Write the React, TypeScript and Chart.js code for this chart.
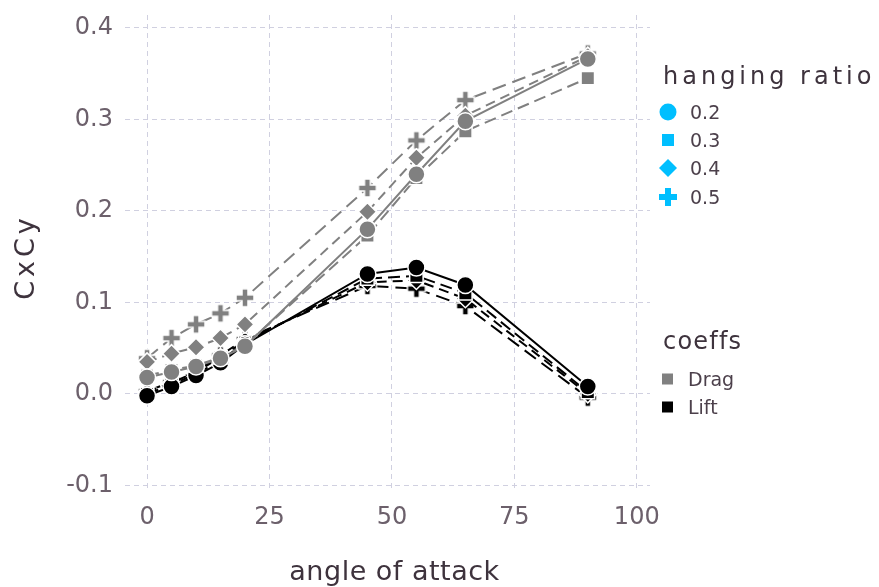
import React, { useEffect, useRef } from "react";
import { Chart, registerables } from "chart.js";

Chart.register(...registerables);

// Angle of attack (degrees) at which the coefficients were measured
const angles = [0, 5, 10, 15, 20, 45, 55, 65, 90];

// Hanging ratios shown in the shape key
const ratios = ["0.2", "0.3", "0.4", "0.5"];
const coeffNames = ["Drag", "Lift"];

// Drag coefficient per hanging ratio
const drag02 = [0.018, 0.024, 0.030, 0.039, 0.052, 0.180, 0.240, 0.298, 0.366];
const drag03 = [0.020, 0.026, 0.031, 0.040, 0.053, 0.173, 0.236, 0.287, 0.345];
const drag04 = [0.035, 0.044, 0.051, 0.061, 0.076, 0.199, 0.258, 0.304, 0.369];
const drag05 = [0.039, 0.061, 0.076, 0.088, 0.105, 0.225, 0.277, 0.321, 0.372];

// Lift coefficient per hanging ratio
const lift02 = [-0.002, 0.008, 0.020, 0.034, 0.054, 0.131, 0.138, 0.119, 0.008];
const lift03 = [0.000, 0.010, 0.022, 0.036, 0.056, 0.126, 0.129, 0.110, 0.002];
const lift04 = [0.002, 0.012, 0.024, 0.040, 0.058, 0.122, 0.124, 0.104, 0.000];
const lift05 = [0.003, 0.013, 0.025, 0.042, 0.060, 0.118, 0.115, 0.096, -0.004];

const xTicks = [0, 25, 50, 75, 100];
const yTicks = [-0.1, 0, 0.1, 0.2, 0.3, 0.4];

const DRAG_COLOR = "#808080";
const LIFT_COLOR = "#000000";
const KEY_COLOR = "#00BFFF";
const TICK_COLOR = "#6C606B";
const TITLE_COLOR = "#3E333D";
const LABEL_COLOR = "#4C404B";
const GRID_COLOR = "#D0D0E0";
const FONT = "'DejaVu Sans', sans-serif";

const dashes: number[][] = [[], [12, 6], [10, 6], [14, 7]];

function plusPath(ctx: CanvasRenderingContext2D, cx: number, cy: number, half: number, arm: number) {
  const a = arm / 2;
  ctx.beginPath();
  ctx.moveTo(cx - a, cy - half);
  ctx.lineTo(cx + a, cy - half);
  ctx.lineTo(cx + a, cy - a);
  ctx.lineTo(cx + half, cy - a);
  ctx.lineTo(cx + half, cy + a);
  ctx.lineTo(cx + a, cy + a);
  ctx.lineTo(cx + a, cy + half);
  ctx.lineTo(cx - a, cy + half);
  ctx.lineTo(cx - a, cy + a);
  ctx.lineTo(cx - half, cy + a);
  ctx.lineTo(cx - half, cy - a);
  ctx.lineTo(cx - a, cy - a);
  ctx.closePath();
}

function makePlus(color: string): HTMLCanvasElement {
  const c = document.createElement("canvas");
  c.width = 22;
  c.height = 22;
  const g = c.getContext("2d")!;
  plusPath(g, 11, 11, 9, 6);
  g.fillStyle = color;
  g.fill();
  g.strokeStyle = "#ffffff";
  g.lineWidth = 1.5;
  g.stroke();
  return c;
}

type Shape = "circle" | "rect" | "rectRot" | "plus";
const shapes: Shape[] = ["circle", "rect", "rectRot", "plus"];
const radii = [8.5, 9.5, 9, 9];

function buildDataset(values: number[], idx: number, color: string, plusImg: HTMLCanvasElement) {
  const shape = shapes[idx];
  return {
    label: "",
    data: angles.map((x, i) => ({ x, y: values[i] })),
    showLine: true,
    borderColor: color,
    borderWidth: 2,
    borderDash: dashes[idx],
    pointStyle: shape === "plus" ? plusImg : shape,
    pointRadius: radii[idx],
    pointBackgroundColor: color,
    pointBorderColor: "#ffffff",
    pointBorderWidth: 1.5,
    pointHoverRadius: radii[idx],
  };
}

function drawText(ctx: CanvasRenderingContext2D, text: string, x: number, y: number, font: string, color: string, spacing: number) {
  ctx.save();
  ctx.font = font;
  ctx.fillStyle = color;
  (ctx as any).letterSpacing = spacing + "px";
  ctx.textBaseline = "alphabetic";
  ctx.textAlign = "left";
  ctx.fillText(text, x, y);
  ctx.restore();
}

const keysPlugin = {
  id: "keys",
  afterDraw(chart: Chart) {
    const ctx = chart.ctx;
    const area = chart.chartArea;
    const kx = area.right + 13;

    // shape key: hanging ratio
    drawText(ctx, "hanging ratio", kx, 84, `24px ${FONT}`, TITLE_COLOR, 4);
    const rowY = [112, 140, 168, 197];
    ratios.forEach((r, i) => {
      const cy = rowY[i];
      const cx = kx + 5;
      ctx.save();
      ctx.fillStyle = KEY_COLOR;
      if (i === 0) {
        ctx.beginPath();
        ctx.arc(cx, cy, 8.5, 0, Math.PI * 2);
        ctx.fill();
      } else if (i === 1) {
        ctx.fillRect(cx - 6, cy - 6, 12, 12);
      } else if (i === 2) {
        ctx.beginPath();
        ctx.moveTo(cx, cy - 9);
        ctx.lineTo(cx + 9, cy);
        ctx.lineTo(cx, cy + 9);
        ctx.lineTo(cx - 9, cy);
        ctx.closePath();
        ctx.fill();
      } else {
        plusPath(ctx, cx, cy, 9, 6);
        ctx.fill();
      }
      ctx.restore();
      drawText(ctx, r, kx + 27, cy + 7, `19px ${FONT}`, LABEL_COLOR, 0);
    });

    // colour key: coeffs
    drawText(ctx, "coeffs", kx, 349, `24px ${FONT}`, TITLE_COLOR, 1.2);
    const cRowY = [379, 407];
    coeffNames.forEach((name, i) => {
      const cy = cRowY[i];
      ctx.save();
      ctx.fillStyle = i === 0 ? DRAG_COLOR : LIFT_COLOR;
      ctx.fillRect(kx - 1, cy - 5.5, 11, 11);
      ctx.restore();
      drawText(ctx, name, kx + 25, cy + 7, `19px ${FONT}`, LABEL_COLOR, 0);
    });

    // axis titles
    ctx.save();
    ctx.font = `27px ${FONT}`;
    (ctx as any).letterSpacing = "0.5px";
    ctx.fillStyle = TITLE_COLOR;
    ctx.textAlign = "center";
    ctx.textBaseline = "alphabetic";
    ctx.fillText("angle of attack", (area.left + area.right) / 2 + 7, 580);
    ctx.translate(34, 257);
    ctx.rotate(-Math.PI / 2);
    (ctx as any).letterSpacing = "4px";
    ctx.fillText("CxCy", 0, 0);
    ctx.restore();
  },
};

function clearPadding(scale: any) {
  scale.paddingTop = 0;
  scale.paddingBottom = 0;
  scale.paddingLeft = 0;
  scale.paddingRight = 0;
}

function CoefficientChart() {
  const ref = useRef<HTMLCanvasElement | null>(null);

  useEffect(() => {
    if (!ref.current) return;
    const plusGray = makePlus(DRAG_COLOR);
    const plusBlack = makePlus(LIFT_COLOR);
    const dragSeries = [drag02, drag03, drag04, drag05];
    const liftSeries = [lift02, lift03, lift04, lift05];

    const datasets = [
      ...dragSeries.map((v, i) => buildDataset(v, i, DRAG_COLOR, plusGray)),
      ...liftSeries.map((v, i) => buildDataset(v, i, LIFT_COLOR, plusBlack)),
    ];

    const chart = new Chart(ref.current, {
      type: "scatter",
      data: { datasets: datasets as any },
      plugins: [keysPlugin],
      options: {
        animation: false,
        responsive: false,
        maintainAspectRatio: false,
        layout: { padding: { top: 15, right: 229, left: 0, bottom: 0 } },
        plugins: { legend: { display: false }, tooltip: { enabled: false } },
        scales: {
          x: {
            type: "linear",
            min: -4.5,
            max: 102.7,
            border: { display: false, dash: [5, 4] },
            grid: { color: GRID_COLOR, lineWidth: 1, drawTicks: false },
            ticks: {
              padding: 13,
              color: TICK_COLOR,
              font: { family: FONT, size: 24 },
              maxRotation: 0,
              callback: (v: any) => String(v),
            },
            afterBuildTicks: (scale: any) => {
              scale.ticks = xTicks.map((v) => ({ value: v }));
            },
            afterFit: (scale: any) => {
              scale.height = 97;
              clearPadding(scale);
            },
          },
          y: {
            type: "linear",
            min: -0.105,
            max: 0.414,
            border: { display: false, dash: [5, 4] },
            grid: { color: GRID_COLOR, lineWidth: 1, drawTicks: false },
            ticks: {
              padding: 12,
              color: TICK_COLOR,
              font: { family: FONT, size: 24 },
              callback: (v: any) => Number(v).toFixed(1),
            },
            afterBuildTicks: (scale: any) => {
              scale.ticks = yTicks.map((v) => ({ value: v }));
            },
            afterFit: (scale: any) => {
              scale.width = 125;
              clearPadding(scale);
            },
          },
        },
      } as any,
    });

    return () => chart.destroy();
  }, []);

  return <canvas ref={ref} width={879} height={587} style={{ display: "block" }} />;
}

export default function App() {
  return (
    <div style={{ position: "fixed", left: 0, top: 0, width: 879, height: 587, background: "#ffffff" }}>
      <CoefficientChart />
    </div>
  );
}
